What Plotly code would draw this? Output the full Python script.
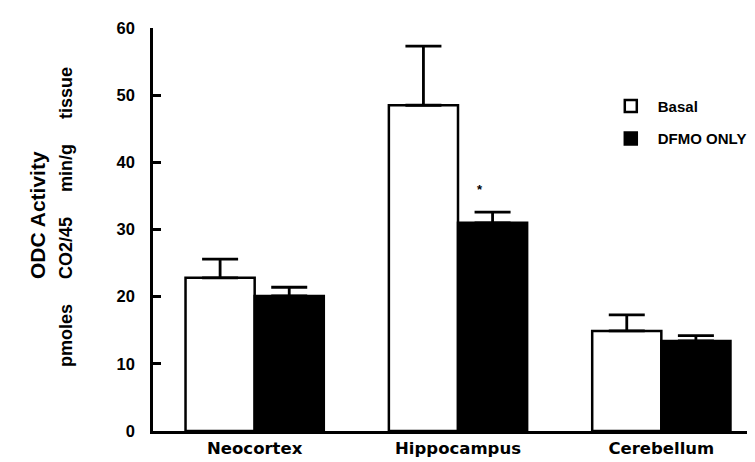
import plotly.graph_objects as go

regions = ["Neocortex", "Hippocampus", "Cerebellum"]
basal = [22.8, 48.5, 14.9]
basal_err = [2.8, 8.8, 2.4]
dfmo = [20.1, 31.0, 13.4]
dfmo_err = [1.3, 1.6, 0.8]
y_ticks = [0, 10, 20, 30, 40, 50, 60]
y_title = "ODC Activity"
y_units = "pmoles CO2/45 min/g tissue"

FONT = "Liberation Sans, Arial, Helvetica, sans-serif"
WIDE = "DejaVu Sans, Verdana, sans-serif"

L, T, B, W, H = 145, 20, 39, 755, 462
PW, PH = W - L, H - T - B


def px_x(x):
    return (x - L) / PW


def px_y(y):
    return (H - B - y) / PH


fig = go.Figure()
fig.add_trace(go.Bar(
    name="Basal", x=regions, y=basal, legendgroup="basal",
    marker=dict(color="white", line=dict(color="black", width=2.5)),
    error_y=dict(type="data", symmetric=False, array=basal_err,
                 arrayminus=[0] * len(basal_err), color="black",
                 thickness=2.8, width=18),
))
fig.add_trace(go.Bar(
    name="DFMO ONLY", x=regions, y=dfmo, legendgroup="dfmo",
    marker=dict(color="black", line=dict(color="black", width=2.5)),
    error_y=dict(type="data", symmetric=False, array=dfmo_err,
                 arrayminus=[0] * len(dfmo_err), color="black",
                 thickness=2.8, width=18),
))

# significance marker above Hippocampus DFMO bar
fig.add_annotation(x=1.11, y=dfmo[1] + dfmo_err[1] + 3.3, xref="x", yref="y",
                   text="<b>*</b>", showarrow=False,
                   font=dict(size=13, color="black", family=FONT))

# y-axis title, two lines
fig.add_annotation(x=px_x(29), y=px_y(207), xref="paper", yref="paper",
                   xanchor="center", yanchor="middle",
                   text=f"<b>{y_title}</b>", textangle=-90, showarrow=False,
                   font=dict(size=21, color="black", family=FONT))
fig.add_annotation(x=px_x(58), y=px_y(209), xref="paper", yref="paper",
                   xanchor="center", yanchor="middle",
                   text="<b>" + y_units.replace(" ", "\u00a0" * 5) + "</b>",
                   textangle=-90, showarrow=False,
                   font=dict(size=18, color="black", family=FONT))

fig.update_layout(
    width=W, height=H,
    margin=dict(l=L, r=0, t=T, b=B),
    paper_bgcolor="white", plot_bgcolor="white",
    barmode="group", bargap=0.32, bargroupgap=0,
    font=dict(family=FONT, color="black"),
    showlegend=True,
    legend=dict(x=0.739, y=0.847, xanchor="left", yanchor="top",
                font=dict(size=15, color="black", family=FONT, weight="bold"),
                tracegroupgap=10, itemwidth=44, bgcolor="rgba(0,0,0,0)"),
    xaxis=dict(range=[-0.5, 2.5], showline=True, linecolor="black",
               linewidth=2.5, ticks="", showgrid=False, zeroline=False,
               tickfont=dict(size=16.5, color="black", family=WIDE,
                             weight="bold")),
    yaxis=dict(range=[0, 60], tickvals=y_ticks, showline=True,
               linecolor="black", linewidth=2.5, ticks="inside", ticklen=8,
               tickwidth=2.5, tickcolor="black", showgrid=False,
               zeroline=False, ticklabelstandoff=12,
               tickfont=dict(size=16.5, color="black", family=FONT,
                             weight="bold")),
)

fig.write_html("out.html")
